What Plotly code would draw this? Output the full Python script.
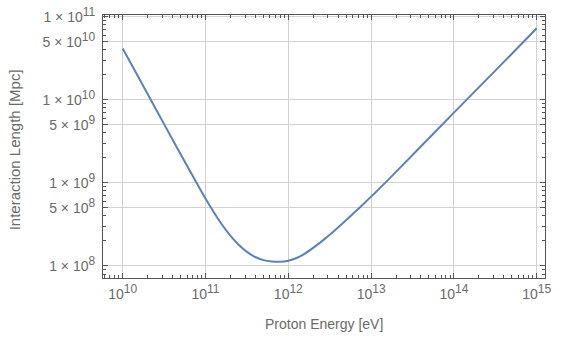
import plotly.graph_objects as go

# Data (energy in eV, interaction length in Mpc)
energy_eV = [1e10, 1.778e10, 3.162e10, 5.623e10, 7.943e10, 1e11, 1.259e11, 1.585e11,
             1.995e11, 2.512e11, 3.162e11, 3.981e11, 5.012e11, 6.310e11, 7.943e11,
             1e12, 1.259e12, 1.585e12, 2.089e12, 2.754e12, 3.631e12, 4.786e12,
             6.310e12, 8.318e12, 1.096e13, 1.585e13, 3.162e13, 1e14, 3.162e14, 1e15]
length_Mpc = [4.14e10, 1.452e10, 5.09e9, 1.79e9, 9.66e8, 6.46e8, 4.42e8, 3.13e8,
              2.32e8, 1.80e8, 1.479e8, 1.282e8, 1.175e8, 1.130e8, 1.122e8,
              1.156e8, 1.245e8, 1.406e8, 1.706e8, 2.118e8, 2.679e8, 3.428e8,
              4.416e8, 5.728e8, 7.464e8, 1.072e9, 2.163e9, 7.0e9, 2.239e10, 7.24e10]

x_tickvals = [1e10, 1e11, 1e12, 1e13, 1e14, 1e15]
x_exps = ["10", "11", "12", "13", "14", "15"]
y_tickvals = [1e8, 5e8, 1e9, 5e9, 1e10, 5e10, 1e11]
y_mants = ["1", "5", "1", "5", "1", "5", "1"]
y_exps = ["8", "8", "9", "9", "10", "10", "11"]

SUP = "<sup><span style='font-size:12px'>{}</span></sup>"
x_ticktext = ["10" + SUP.format(e) for e in x_exps]
y_ticktext = [m + " × 10" + SUP.format(e) for m, e in zip(y_mants, y_exps)]

minor_x = [m * 10 ** k for k in range(9, 16) for m in range(2, 10)]
minor_y = [m * 10 ** k for k in range(7, 12) for m in range(2, 10) if m != 5]

FONT = "Liberation Sans, Arial, sans-serif"
font_col = "#6a6a6a"
frame_col = "#555555"

fig = go.Figure()
fig.add_trace(go.Scatter(
    x=energy_eV, y=length_Mpc, mode="lines",
    line=dict(color="#5E81B5", width=2, shape="spline", smoothing=0.6),
    showlegend=False, hoverinfo="skip"))

axis_common = dict(
    type="log", showline=True, linecolor=frame_col, linewidth=1, mirror="ticks",
    ticks="inside", ticklen=5, tickcolor=frame_col, tickwidth=1,
    showgrid=True, gridcolor="#d2d2d2", gridwidth=1, zeroline=False,
    tickfont=dict(family=FONT, size=14, color=font_col),
    tickmode="array", ticklabeloverflow="allow",
)

fig.update_xaxes(
    **axis_common, range=[9.762, 15.10],
    tickvals=x_tickvals, ticktext=x_ticktext, ticklabelstandoff=3,
    minor=dict(tickmode="array", tickvals=minor_x, ticks="inside", ticklen=3,
               tickcolor=frame_col, showgrid=False),
)
fig.update_yaxes(
    **axis_common, range=[7.855, 11.02],
    tickvals=y_tickvals, ticktext=y_ticktext, ticklabelstandoff=4,
    minor=dict(tickmode="array", tickvals=minor_y, ticks="inside", ticklen=3,
               tickcolor=frame_col, showgrid=False),
)

fig.add_annotation(text="Proton Energy [eV]", xref="paper", yref="paper",
                   x=0.5, y=-(326 - 278) / 273, xanchor="center", yanchor="middle",
                   showarrow=False, font=dict(family=FONT, size=14, color=font_col))
fig.add_annotation(text="Interaction Length [Mpc]", xref="paper", yref="paper",
                   x=-(103 - 14.5) / 442, y=(278 - 145) / 273, xanchor="center",
                   yanchor="middle", textangle=-90, showarrow=False,
                   font=dict(family=FONT, size=15, color=font_col))

fig.update_layout(
    width=563, height=341,
    margin=dict(l=103, r=18, t=5, b=63),
    paper_bgcolor="white", plot_bgcolor="white",
)

fig.write_html("out.html", config={"displayModeBar": False},
               post_script="document.body.style.margin='0px';")
